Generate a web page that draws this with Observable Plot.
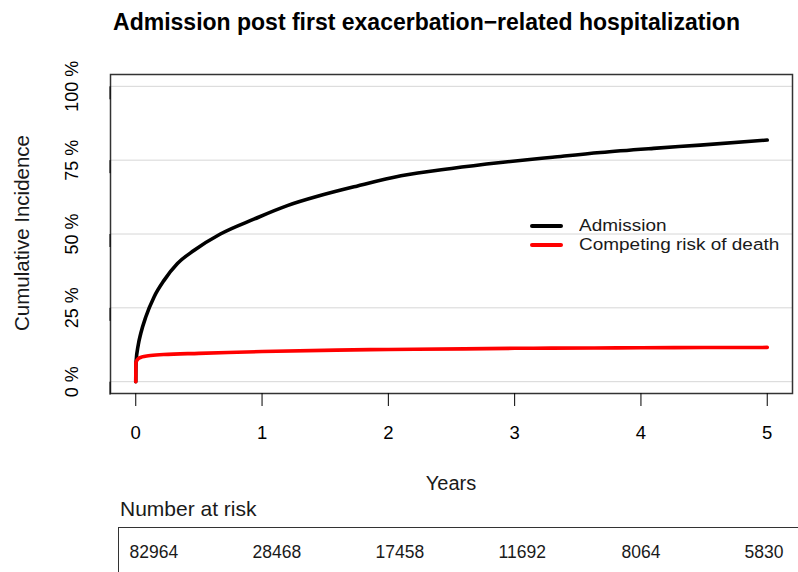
<!DOCTYPE html>
<html>
<head>
<meta charset="utf-8">
<script src="https://cdn.jsdelivr.net/npm/d3@7"></script>
<script src="https://cdn.jsdelivr.net/npm/@observablehq/plot@0.6"></script>
<style>
  html, body { margin: 0; padding: 0; background: #fff; }
  #wrap { position: relative; width: 798px; height: 572px; overflow: hidden; font-family: "Liberation Sans", Arial, sans-serif; color: #000; }
  #wrap > * { position: absolute; }
  .title { left: 0; width: 853px; top: 9px; text-align: center; font-weight: bold; font-size: 23px; line-height: 26px; white-space: nowrap; }
  .ylab { left: 22px; top: 233px; transform: translate(-50%, -50%) rotate(-90deg); font-size: 20.5px; white-space: nowrap; color: #1a1a1a; }
  .xlab { left: 451px; top: 483px; transform: translate(-50%, -50%); font-size: 20px; color: #1a1a1a; }
  .legend { left: 530px; top: 215px; font-size: 16.8px; color: #1a1a1a; }
  .legend div { position: relative; height: 19px; line-height: 19px; white-space: nowrap; }
  .legend span.sw { display: inline-block; width: 33px; vertical-align: middle; margin-right: 16px; border-radius: 2px; }
  .legend span.lt { display: inline-block; vertical-align: middle; transform: scaleX(1.13); transform-origin: 0 50%; }
  .risk-title { left: 120px; top: 497px; font-size: 21px; line-height: 24px; color: #1a1a1a; }
  .risk-box { left: 118px; top: 527px; width: 700px; height: 60px; border-top: 1.5px solid #333; border-left: 1.5px solid #333; }
</style>
</head>
<body>
<div id="wrap"></div>
<script>
// ---- data ----
const titleText = "Admission post first exacerbation\u2212related hospitalization";
const seriesNames = ["Admission", "Competing risk of death"];
const seriesColors = ["#000000", "#ff0000"];

// Cumulative incidence of admission (%)
const admYears = [0, 0.002, 0.02, 0.04, 0.08, 0.145, 0.224, 0.33, 0.46, 0.67, 0.94, 1.2, 1.46, 1.75, 2.1, 2.5, 2.89, 3.3, 3.68, 4.1, 4.47, 5.0];
const admValues = [0, 6.5, 12.5, 16.4, 22.0, 28.7, 34.3, 40.0, 44.4, 50.0, 55.1, 59.6, 63.0, 66.2, 69.7, 72.2, 74.2, 76.0, 77.6, 79.0, 80.1, 81.8];

// Cumulative incidence of competing risk of death (%)
const deathYears = [0, 0.001, 0.02, 0.05, 0.1, 0.22, 0.5, 0.73, 1.0, 1.59, 2.0, 2.6, 3.0, 3.63, 4.0, 4.5, 5.0];
const deathValues = [0, 6.5, 7.8, 8.4, 8.8, 9.2, 9.6, 9.9, 10.2, 10.7, 10.9, 11.1, 11.3, 11.4, 11.5, 11.55, 11.6];

const xTicks = [0, 1, 2, 3, 4, 5];
const yTicks = [0, 25, 50, 75, 100];

const riskYears = [0, 1, 2, 3, 4, 5];
const riskCounts = ["82964", "28468", "17458", "11692", "8064", "5830"];

// ---- build ----
const adm = admYears.map((t, i) => ({t, v: admValues[i]}));
const death = deathYears.map((t, i) => ({t, v: deathValues[i]}));

const wrap = document.getElementById("wrap");
const font = "'Liberation Sans', Arial, sans-serif";

const chart = Plot.plot({
  width: 798,
  height: 572,
  marginTop: 74,
  marginBottom: 179,
  marginLeft: 110,
  marginRight: 6,
  style: {fontFamily: font, fontSize: "18px", background: "transparent", color: "#000", overflow: "visible"},
  x: {domain: [-0.2, 5.2]},
  y: {domain: [-4, 104]},
  marks: [
    Plot.gridY(yTicks, {stroke: "#d6d6d6", strokeOpacity: 1, strokeWidth: 1}),
    Plot.line(adm, {x: "t", y: "v", stroke: seriesColors[0], strokeWidth: 3.6, curve: "monotone-x"}),
    Plot.line(death, {x: "t", y: "v", stroke: seriesColors[1], strokeWidth: 3.6, curve: "monotone-x"}),
    Plot.frame({stroke: "#333", strokeWidth: 1.5}),
    Plot.axisX(xTicks, {tickSize: 13, tickPadding: 19, label: null, fontSize: 18.5, stroke: "#000", strokeWidth: 1,
      tickFormat: d => String(d)}),
    Plot.axisY(yTicks, {tickSize: 13, tickPadding: 25, label: null, fontSize: 18, rotate: -90,
      textAnchor: "middle", lineAnchor: "middle", tickFormat: d => d + " %", stroke: "#000", strokeWidth: 1})
  ]
});
chart.style.left = "0px";
chart.style.top = "0px";
wrap.appendChild(chart);

function addDiv(cls, text) {
  const d = document.createElement("div");
  d.className = cls;
  if (text != null) d.textContent = text;
  wrap.appendChild(d);
  return d;
}
addDiv("title", titleText);
addDiv("ylab", "Cumulative Incidence");
addDiv("xlab", "Years");

const leg = addDiv("legend");
seriesNames.forEach((name, i) => {
  const row = document.createElement("div");
  const sw = document.createElement("span");
  sw.className = "sw";
  sw.style.borderTop = (i === 0 ? 4.5 : 4) + "px solid " + seriesColors[i];
  row.appendChild(sw);
  const lt = document.createElement("span");
  lt.className = "lt";
  lt.textContent = name;
  row.appendChild(lt);
  leg.appendChild(row);
});

addDiv("risk-title", "Number at risk");
addDiv("risk-box");

const riskData = riskYears.map((t, i) => ({t, n: riskCounts[i]}));
const risk = Plot.plot({
  width: 798,
  height: 44,
  marginTop: 0, marginBottom: 0, marginLeft: 129, marginRight: 54,
  style: {fontFamily: font, fontSize: "17.5px", background: "transparent", color: "#1a1a1a", overflow: "visible"},
  x: {domain: [0, 5], axis: null},
  marks: [
    Plot.text(riskData, {x: "t", text: "n", frameAnchor: "middle", textAnchor: "start", fontSize: 17.5, fill: "#1a1a1a"})
  ]
});
risk.style.left = "0px";
risk.style.top = "530px";
wrap.appendChild(risk);
</script>
</body>
</html>
